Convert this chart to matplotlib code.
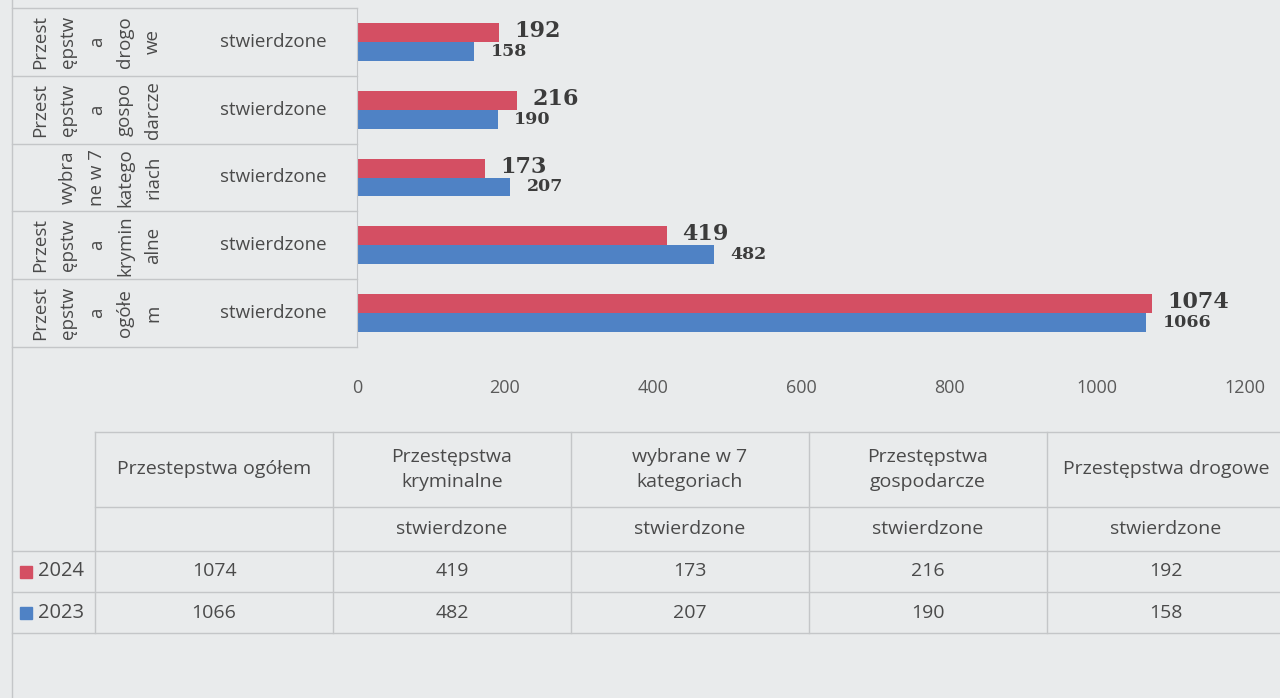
import matplotlib
matplotlib.use("Agg")
import matplotlib.pyplot as plt
from matplotlib.transforms import blended_transform_factory
from matplotlib.patches import Rectangle
from matplotlib.lines import Line2D

# data, in table order (first category is drawn at the bottom)
categories = ["Przestepstwa ogółem", "Przestępstwa\nkryminalne", "wybrane w 7\nkategoriach",
              "Przestępstwa\ngospodarcze", "Przestępstwa drogowe"]
axis_labels = [["Przest", "ępstw", "a", "ogółe", "m"],
               ["Przest", "ępstw", "a", "krymin", "alne"],
               ["wybra", "ne w 7", "katego", "riach"],
               ["Przest", "ępstw", "a", "gospo", "darcze"],
               ["Przest", "ępstw", "a", "drogo", "we"]]
subheaders = ["", "stwierdzone", "stwierdzone", "stwierdzone", "stwierdzone"]
years = ["2024", "2023"]
values_2024 = [1074, 419, 173, 216, 192]
values_2023 = [1066, 482, 207, 190, 158]

RED = "#D44F63"
BLUE = "#4F82C5"
BG = "#E9EBEC"
GRID = "#C4C6C8"
TXT = "#4A4A4A"
W, H = 1280, 698
FONT = "Open Sans"


def fx(px):
    return px / W


def fy(py):
    return 1 - py / H


fig = plt.figure(figsize=(12.8, 6.98), dpi=100, facecolor=BG)
ax = fig.add_axes([fx(357), fy(347), fx(1245) - fx(357), fy(8) - fy(347)])
ax.set_facecolor(BG)

n = len(categories)
ypos = list(range(n))
bh = 0.28
ax.barh([y + bh / 2 for y in ypos], values_2024, height=bh, color=RED)
ax.barh([y - bh / 2 for y in ypos], values_2023, height=bh, color=BLUE)

for y, v in zip(ypos, values_2024):
    ax.annotate(str(v), xy=(v, y + bh / 2), xytext=(11, 1), textcoords="offset points",
                va="center", ha="left", fontfamily="DejaVu Serif", fontweight="bold",
                fontsize=16, color="#3C3C3C")
for y, v in zip(ypos, values_2023):
    ax.annotate(str(v), xy=(v, y - bh / 2), xytext=(12, 0), textcoords="offset points",
                va="center", ha="left", fontfamily="DejaVu Serif", fontweight="bold",
                fontsize=12.5, color="#3C3C3C")

ax.set_xlim(0, 1200)
ax.set_ylim(-0.5, n - 0.5)
ax.set_xticks(range(0, 1201, 200))
ax.tick_params(axis="x", length=0, pad=23, labelsize=13, labelcolor="#5A5A5A")
for lab in ax.get_xticklabels():
    lab.set_fontfamily(FONT)
ax.set_yticks([])
for s in ["top", "right", "bottom"]:
    ax.spines[s].set_visible(False)
ax.spines["left"].set_color(GRID)

# category label block left of the bars
tr = blended_transform_factory(fig.transFigure, ax.transData)
for k in range(n + 1):
    ax.add_line(Line2D([fx(12), fx(357)], [k - 0.5, k - 0.5], transform=tr,
                       color=GRID, lw=1, clip_on=False))
line_x = [40, 68, 97, 125, 153]
for y, words in zip(ypos, axis_labels):
    start = len(line_x) - len(words)
    for j, w in enumerate(words):
        ax.text(fx(line_x[start + j]), y, w, transform=tr, rotation=90, ha="center",
                va="center", fontsize=13.5, color=TXT, fontfamily=FONT, clip_on=False)
    ax.text(fx(273), y, "stwierdzone", transform=tr, ha="center", va="center",
            fontsize=13.5, color=TXT, fontfamily=FONT, clip_on=False)

# outer left border
fig.add_artist(Line2D([fx(12), fx(12)], [0, 1], color=GRID, lw=1))

# data table below
col_w = 238
col_x = [95 + col_w * k for k in range(n + 1)]
row_y = [432, 507, 551, 592, 633]
for yy in row_y[:2]:
    fig.add_artist(Line2D([fx(95), 1], [fy(yy), fy(yy)], color=GRID, lw=1))
for yy in row_y[2:]:
    fig.add_artist(Line2D([fx(12), 1], [fy(yy), fy(yy)], color=GRID, lw=1))
for xx in col_x[:-1]:
    fig.add_artist(Line2D([fx(xx), fx(xx)], [fy(row_y[0]), fy(row_y[-1])], color=GRID, lw=1))

for k in range(n):
    cx = fx(col_x[k] + col_w / 2)
    fig.text(cx, fy((row_y[0] + row_y[1]) / 2), categories[k], ha="center", va="center",
             fontsize=14, color=TXT, fontfamily=FONT, linespacing=1.5)
    fig.text(cx, fy((row_y[1] + row_y[2]) / 2), subheaders[k], ha="center", va="center",
             fontsize=14, color=TXT, fontfamily=FONT)
    fig.text(cx, fy((row_y[2] + row_y[3]) / 2), str(values_2024[k]), ha="center",
             va="center", fontsize=14, color=TXT, fontfamily=FONT)
    fig.text(cx, fy((row_y[3] + row_y[4]) / 2), str(values_2023[k]), ha="center",
             va="center", fontsize=14, color=TXT, fontfamily=FONT)

for i, (yr, c) in enumerate(zip(years, [RED, BLUE])):
    yc = (row_y[2 + i] + row_y[3 + i]) / 2
    fig.add_artist(Rectangle((fx(20), fy(yc + 6)), fx(12), 12 / H, color=c,
                             transform=fig.transFigure))
    fig.text(fx(38), fy(yc), yr, ha="left", va="center", fontsize=14.5, color=TXT,
             fontfamily=FONT)

fig.savefig("out.png", dpi=100, facecolor=BG)
